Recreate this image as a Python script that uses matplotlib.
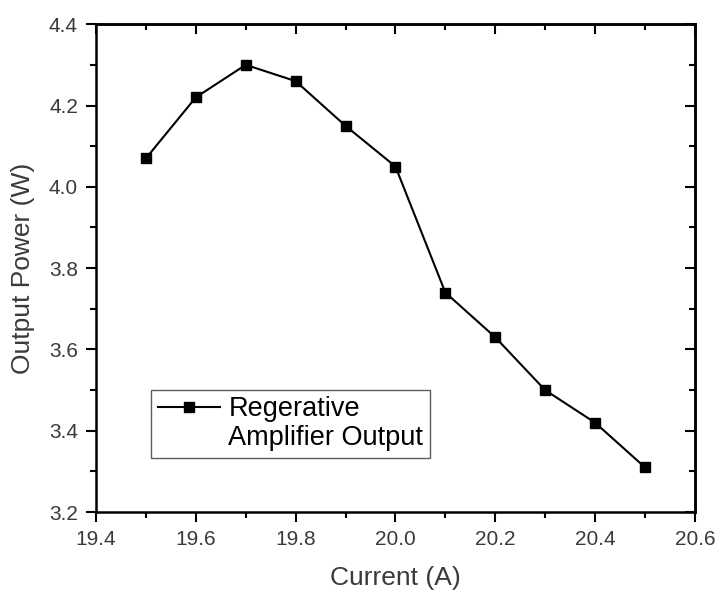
import matplotlib
matplotlib.use('Agg')
import numpy as np
from matplotlib import pyplot as plt
from matplotlib.lines import Line2D
from matplotlib.ticker import MultipleLocator

current = [19.5, 19.6, 19.7, 19.8, 19.9, 20.0, 20.1, 20.2, 20.3, 20.4, 20.5]
output_power = [4.07, 4.22, 4.30, 4.26, 4.15, 4.05, 3.74, 3.63, 3.50, 3.42, 3.31]
x_ticks = [19.4, 19.6, 19.8, 20.0, 20.2, 20.4, 20.6]
y_ticks = [3.2, 3.4, 3.6, 3.8, 4.0, 4.2, 4.4]
legend_lines = ['Regerative', 'Amplifier Output']

plt.rcParams['font.family'] = ['Liberation Sans', 'DejaVu Sans']
text_color = '#3a3a3a'


def style_ticks(axis_obj, direction, labels):
    axis_obj.set_tick_params(which='major', direction=direction, length=7, width=1.5,
                             labelsize=15, labelcolor=text_color, pad=6)
    axis_obj.set_tick_params(which='minor', direction=direction, length=4, width=1.5)
    if not labels:
        axis_obj.set_tick_params(which='both', labelbottom=False, labeltop=False,
                                 labelleft=False, labelright=False)


def main():
    fig = plt.figure(figsize=(7.19, 5.9), dpi=100)
    ax = fig.add_axes([0.1335, 0.132, 0.833, 0.827])

    line, = ax.plot(current, output_power, color='black', linewidth=1.5,
                    marker='s', markersize=7.5)

    ax.set_xlim(19.4, 20.6)
    ax.set_ylim(3.2, 4.4)
    ax.set_xticks(x_ticks)
    ax.set_yticks(y_ticks)
    ax.set_xticklabels([f'{v:.1f}' for v in x_ticks])
    ax.set_yticklabels([f'{v:.1f}' for v in y_ticks])
    ax.xaxis.set_minor_locator(MultipleLocator(0.1))
    ax.yaxis.set_minor_locator(MultipleLocator(0.1))
    style_ticks(ax.xaxis, 'out', True)
    style_ticks(ax.yaxis, 'out', True)
    for spine in ax.spines.values():
        spine.set_linewidth(1.8)

    # mirrored ticks pointing inward on the top and right
    top = ax.secondary_xaxis('top')
    top.set_xticks(x_ticks)
    top.xaxis.set_minor_locator(MultipleLocator(0.1))
    style_ticks(top.xaxis, 'in', False)
    top.spines['top'].set_linewidth(1.8)
    right = ax.secondary_yaxis('right')
    right.set_yticks(y_ticks)
    right.yaxis.set_minor_locator(MultipleLocator(0.1))
    style_ticks(right.yaxis, 'in', False)
    right.spines['right'].set_linewidth(1.8)

    ax.set_xlabel('Current (A)', fontsize=19, color=text_color, labelpad=12)
    ax.set_ylabel('Output Power (W)', fontsize=19, color=text_color, labelpad=10)

    blank = Line2D([], [], linestyle='none')
    leg = ax.legend([line, blank], legend_lines, loc='lower left',
                    bbox_to_anchor=(0.092, 0.111), fontsize=19.5, frameon=True,
                    fancybox=False, edgecolor='#333333', handlelength=2.3,
                    handletextpad=0.3, labelspacing=0.1, borderpad=0.25,
                    borderaxespad=0)
    leg.get_frame().set_linewidth(1.0)
    for t in leg.get_texts():
        t.set_color('black')

    fig.savefig('out.png', dpi=100)


if __name__ == '__main__':
    main()
